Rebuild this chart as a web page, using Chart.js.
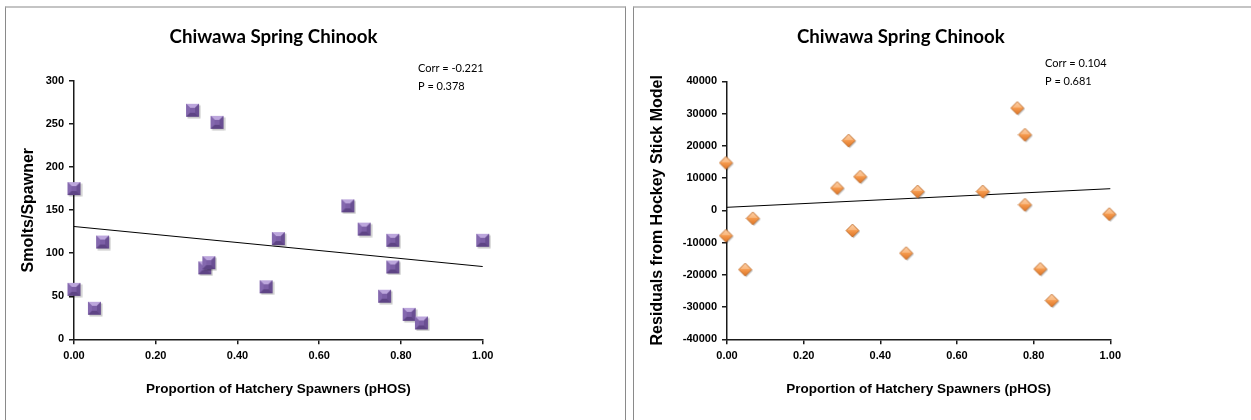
<!DOCTYPE html>
<html><head><meta charset="utf-8">
<script src="https://cdn.jsdelivr.net/npm/chart.js@4.4.0/dist/chart.umd.min.js"></script>
<style>
html,body{margin:0;padding:0;background:#fff;width:1251px;height:420px;overflow:hidden}
.panel{position:absolute;top:6px;height:430px;border-left:1px solid #8a8a8a;border-right:1px solid #8a8a8a;border-top:2px solid #c4c4c4;box-sizing:border-box}
#p1{left:5px;width:621px}
#p2{left:633px;width:630px}
.cw{position:absolute;top:0;height:420px}
#c1w{left:0;width:625px}
#c2w{left:630px;width:621px}
</style></head><body>
<div class="panel" id="p1"></div><div class="panel" id="p2"></div>
<div class="cw" id="c1w"><canvas id="c1" width="625" height="420"></canvas></div>
<div class="cw" id="c2w"><canvas id="c2" width="621" height="420"></canvas></div>
<script>
const chartTitle = 'Chiwawa Spring Chinook';
const xAxisTitle = 'Proportion of Hatchery Spawners (pHOS)';
const leftYAxisTitle = 'Smolts/Spawner';
const rightYAxisTitle = 'Residuals from Hockey Stick Model';

const leftPHOS   = [0.00, 0.00, 0.05, 0.07, 0.29, 0.35, 0.32, 0.33, 0.47, 0.50, 0.67, 0.71, 0.78, 0.78, 0.76, 0.82, 0.85, 1.00];
const leftSmolts = [175, 58, 36, 113, 266, 252, 83, 89, 61, 117, 155, 128, 115, 84, 50, 29, 19, 115];

const rightPHOS      = [0.00, 0.00, 0.05, 0.07, 0.29, 0.32, 0.35, 0.33, 0.47, 0.50, 0.67, 0.76, 0.78, 0.78, 0.82, 0.85, 1.00];
const rightResiduals = [14400, -8200, -18700, -2800, 6600, 21300, 10100, -6600, -13600, 5500, 5500, 31400, 23100, 1400, -18500, -28300, -1500];

const trendX = [0, 1];
const leftTrend = [131, 84.5];
const rightTrend = [930, 6700];

const leftStats = ['Corr = -0.221', 'P = 0.378'];
const rightStats = ['Corr = 0.104', 'P = 0.681'];

const leftYRange = [0, 300, 50];
const rightYRange = [-40000, 40000, 10000];
const xRange = [0, 1, 0.2];

function makeSquare() {
  const c = document.createElement('canvas'); c.width = 17; c.height = 17;
  const g = c.getContext('2d');
  g.fillStyle = 'rgba(0,0,0,0.22)'; g.fillRect(3.5, 3.5, 13, 13);
  g.fillStyle = '#7A5CA3'; g.fillRect(2, 2, 13, 13);
  const poly = (pts, col) => { g.beginPath(); g.moveTo(pts[0][0], pts[0][1]); for (let i = 1; i < pts.length; i++) g.lineTo(pts[i][0], pts[i][1]); g.closePath(); g.fillStyle = col; g.fill(); };
  poly([[2,2],[15,2],[11,6],[6,6]], '#BCA6DC');
  poly([[2,2],[6,6],[6,11],[2,15]], '#8468AE');
  poly([[15,2],[15,15],[11,11],[11,6]], '#6A4F93');
  poly([[2,15],[15,15],[11,11],[6,11]], '#5E4485');
  g.fillStyle = '#7C5FA6'; g.fillRect(6, 6, 5, 5);
  return c;
}
function makeDiamond() {
  const c = document.createElement('canvas'); c.width = 17; c.height = 17;
  const g = c.getContext('2d');
  const d = (o, col) => { g.beginPath(); g.moveTo(7.5+o, 1+o); g.lineTo(14+o, 7.5+o); g.lineTo(7.5+o, 14+o); g.lineTo(1+o, 7.5+o); g.closePath(); g.fillStyle = col; g.fill(); };
  d(1.2, 'rgba(0,0,0,0.22)');
  const gr = g.createLinearGradient(0, 1, 0, 14);
  gr.addColorStop(0, '#FCC79A'); gr.addColorStop(0.5, '#F59A4E'); gr.addColorStop(1, '#DD7425');
  d(0, gr);
  g.beginPath(); g.moveTo(7.5, 1); g.lineTo(14, 7.5); g.lineTo(7.5, 14); g.lineTo(1, 7.5); g.closePath();
  g.strokeStyle = '#B8621E'; g.lineWidth = 0.8; g.stroke();
  g.beginPath(); g.moveTo(7.5, 2); g.lineTo(12.5, 7); g.lineTo(2.5, 7); g.closePath();
  g.fillStyle = 'rgba(255,230,200,0.35)'; g.fill();
  return c;
}

const textPlugin = {
  id: 'texts',
  afterDraw(chart, args, opts) {
    const ctx = chart.ctx;
    ctx.save();
    ctx.fillStyle = '#000';
    ctx.textBaseline = 'middle';
    ctx.font = 'bold 18.7px Lato, "Open Sans", sans-serif';
    ctx.textAlign = 'center';
    ctx.fillText(opts.title, opts.titleX, opts.titleY);
    ctx.font = '11px Lato, "Open Sans", sans-serif';
    ctx.textAlign = 'left';
    opts.lines.forEach((t, i) => ctx.fillText(t, opts.x, opts.y + i * opts.dy));
    ctx.restore();
  }
};

function build(id, xs, ys, trend, yRange, yTitle, marker, geom, texts) {
  const points = xs.map((x, i) => ({ x: x, y: ys[i] }));
  const trendPts = trendX.map((x, i) => ({ x: x, y: trend[i] }));
  return new Chart(document.getElementById(id), {
    type: 'scatter',
    data: {
      datasets: [
        { data: trendPts, showLine: true, borderColor: '#000', borderWidth: 1, pointRadius: 0, fill: false, clip: false, order: 2 },
        { data: points, pointStyle: marker, pointRadius: 7, pointHoverRadius: 7, clip: false, order: 1 }
      ]
    },
    plugins: [textPlugin],
    options: {
      responsive: false,
      animation: false,
      events: [],
      layout: { padding: { left: 0, right: geom.padRight, top: geom.top, bottom: 0 } },
      plugins: {
        legend: { display: false },
        tooltip: { enabled: false },
        title: { display: false },
        texts: texts
      },
      scales: {
        x: {
          type: 'linear', min: xRange[0], max: xRange[1],
          ticks: { stepSize: xRange[2], padding: 5, color: '#000', font: { family: '"Liberation Sans", Arial, sans-serif', size: 11, weight: 'bold' }, callback: v => Number(v).toFixed(2), maxRotation: 0 },
          grid: { display: true, drawOnChartArea: false, drawTicks: true, tickLength: 5, color: '#1a1a1a', lineWidth: 1.5 },
          border: { display: true, color: '#1a1a1a', width: 1.5 },
          title: { display: true, text: xAxisTitle, color: '#000', font: { family: '"Liberation Sans", Arial, sans-serif', size: 13.5, weight: 'bold', lineHeight: 1.2 }, padding: { top: 0, bottom: 22.9 } },
          afterFit: s => { s.height = 420 - geom.bottom; }
        },
        y: {
          type: 'linear', min: yRange[0], max: yRange[1],
          ticks: { stepSize: yRange[2], padding: 5, color: '#000', font: { family: '"Liberation Sans", Arial, sans-serif', size: 11, weight: 'bold' }, callback: v => String(v) },
          grid: { display: true, drawOnChartArea: false, drawTicks: true, tickLength: 5, color: '#1a1a1a', lineWidth: 1.5 },
          border: { display: true, color: '#1a1a1a', width: 1.5 },
          title: { display: true, text: yTitle, color: '#000', font: { family: '"Liberation Sans", Arial, sans-serif', size: 16, weight: 'bold', lineHeight: 1.2 }, padding: { top: geom.yTitleX - 9.6, bottom: 0 } },
          afterFit: s => { s.width = geom.left; }
        }
      }
    }
  });
}

build('c1', leftPHOS, leftSmolts, leftTrend, leftYRange, leftYAxisTitle, makeSquare(),
  { left: 74, padRight: 625 - 482.7, top: 81, bottom: 339.3, yTitleX: 29 },
  { title: chartTitle, titleX: 273.5, titleY: 37, lines: leftStats, x: 418, y: 68, dy: 18 });
build('c2', rightPHOS, rightResiduals, rightTrend, rightYRange, rightYAxisTitle, makeDiamond(),
  { left: 97, padRight: 621 - 480.3, top: 81.3, bottom: 339.3, yTitleX: 28 },
  { title: chartTitle, titleX: 270.8, titleY: 37, lines: rightStats, x: 415, y: 63.5, dy: 18.3 });
</script>
</body></html>
